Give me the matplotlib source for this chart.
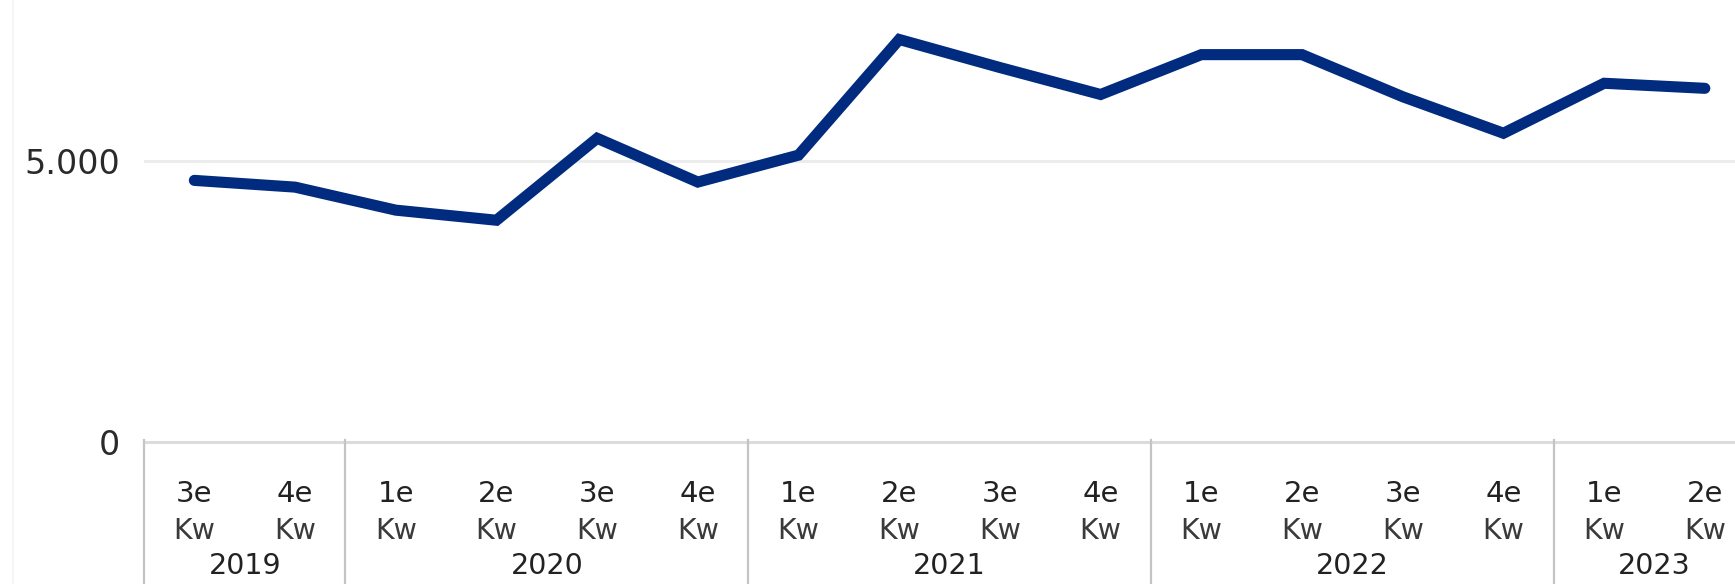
import matplotlib.pyplot as plt
from matplotlib.lines import Line2D
from matplotlib.transforms import blended_transform_factory

quarters = ['3e', '4e',
            '1e', '2e', '3e', '4e',
            '1e', '2e', '3e', '4e',
            '1e', '2e', '3e', '4e',
            '1e', '2e']
years = [2019, 2019,
         2020, 2020, 2020, 2020,
         2021, 2021, 2021, 2021,
         2022, 2022, 2022, 2022,
         2023, 2023]
values = [4660, 4540, 4130, 3950, 5410, 4630, 5110, 7170,
          6670, 6190, 6900, 6900, 6150, 5500, 6390, 6300]

W, H = 1735, 584
fig = plt.figure(figsize=(W / 100, H / 100), dpi=100)
fig.patch.set_facecolor('white')

# plot area: left edge at x=144px, baseline at y=442px
ax = fig.add_axes([144 / W, (H - 442) / H, 1 - 144 / W, 442 / H])
x = list(range(len(values)))
ax.plot(x, values, color='#002b7f', lw=8, solid_joinstyle='miter',
        solid_capstyle='round', zorder=3)

ax.set_xlim(-0.5, -0.5 + (W - 144) / 100.7)
ax.set_ylim(0, 442 / 280.7 * 5000)

for s in ax.spines.values():
    s.set_visible(False)
ax.axhline(5000, color='#ececec', lw=2.2, zorder=1)
ax.axhline(0, color='#dcdcdc', lw=2.2, zorder=1, clip_on=False)

ax.set_xticks([])
ax.set_yticks([0, 5000])
ax.set_yticklabels(['0', '5.000'])
ax.tick_params(axis='y', length=0, pad=17, labelsize=24, labelcolor='#2a2a2a')

# category labels below the axis
tr = blended_transform_factory(ax.transData, fig.transFigure)
for i, q in enumerate(quarters):
    ax.text(i, 1 - 494 / H, q, transform=tr, ha='center', va='center',
            fontsize=21, color='#222222')
    ax.text(i, 1 - 531 / H, 'Kw', transform=tr, ha='center', va='center',
            fontsize=20.5, color='#3a3a3a')

groups = sorted(set(years))
for yr in groups:
    idx = [i for i, v in enumerate(years) if v == yr]
    ax.text(sum(idx) / len(idx), 1 - 566 / H, str(yr), transform=tr,
            ha='center', va='center', fontsize=20.5, color='#222222')

# separators between year groups
bounds = [-0.5] + [i - 0.5 for i in range(1, len(years)) if years[i] != years[i - 1]]
for b in bounds:
    ax.add_line(Line2D([b, b], [1 - 440 / H, 0], transform=tr, color='#c4c4c4',
                       lw=1.6, clip_on=False))

# faint outer border on the left
fig.add_artist(Line2D([13 / W, 13 / W], [0, 1], color='#f3f3f3', lw=1.2))

fig.savefig('out.png', dpi=100)
